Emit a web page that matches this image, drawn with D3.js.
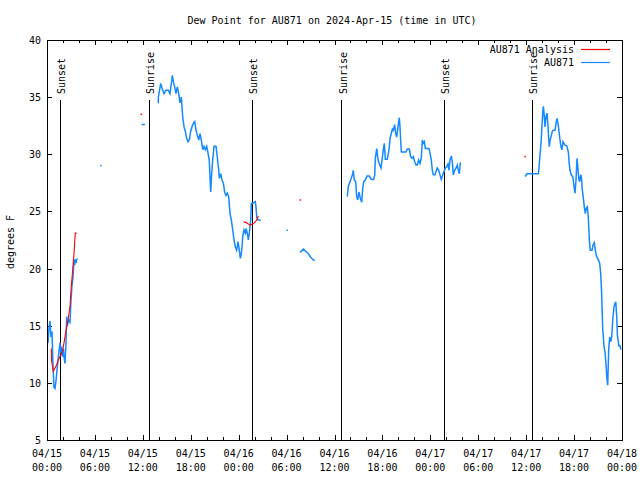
<!DOCTYPE html>
<meta charset="utf-8">
<style>
  body { margin: 0; background: #fff; }
  text { font-family: "DejaVu Sans Mono", monospace; font-size: 10px; fill: #000; }
  .frame { fill: none; stroke: #000; stroke-width: 1; shape-rendering: crispEdges; }
  .tick { stroke: #000; stroke-width: 1; shape-rendering: crispEdges; }
  .sun line { stroke: #000; stroke-width: 1.5; shape-rendering: crispEdges; }
  .series { fill: none; stroke-linejoin: miter; }
</style>
<body>
<script src="https://cdn.jsdelivr.net/npm/d3@7"></script>
<script>

// hours after 2024-04-15 00:00 UTC, null value = gap in the record
var dewHours = [
  0.13,0.25,0.38,0.5,0.63,0.75,0.88,1.0,1.13,1.29,1.47,1.63,1.72,1.82,1.92,2.05,2.13,2.25,2.38,2.46,2.55,2.71,2.88,3.0,3.13,3.25,3.38,3.46,3.55,3.65,3.75,
  5.0,
  6.76,
  9.0,
  11.85,12.27,
  13.0,
  13.94,13.95,14.24,14.40,14.65,14.90,15.19,15.40,15.62,15.69,15.82,15.99,16.15,16.32,16.49,16.65,16.82,16.99,17.16,17.32,17.49,17.66,17.82,17.99,18.16,18.32,18.50,18.66,18.82,19.00,19.16,19.32,19.50,19.66,19.82,20.00,20.16,20.32,20.41,20.50,20.62,20.75,20.91,21.16,21.32,21.50,21.58,21.75,21.91,22.08,22.25,22.41,22.58,22.75,22.92,23.08,23.25,23.42,23.58,23.75,23.92,24.08,24.21,24.33,24.42,24.51,24.67,24.83,24.92,25.08,25.21,25.33,25.51,25.58,25.76,25.92,26.08,26.17,26.26,26.42,26.58,26.76,
  28.0,
  30.09,
  31.0,
  31.68,32.1,32.43,32.72,33.02,33.27,33.52,
  35.0,
  37.60,37.73,37.94,38.10,38.28,38.35,38.48,38.66,38.78,38.91,39.07,39.23,39.41,39.53,39.66,39.86,40.07,40.36,40.61,40.91,41.04,41.11,41.29,41.45,41.66,41.82,41.95,42.11,42.24,42.36,42.61,42.83,42.95,43.11,43.24,43.36,43.54,43.66,43.79,43.95,44.04,44.11,44.20,44.29,44.37,44.62,44.95,45.12,45.37,45.54,45.71,45.87,46.04,46.21,46.37,46.54,46.71,46.87,47.00,47.12,47.25,47.37,47.62,47.83,47.96,48.12,48.25,48.37,48.59,48.71,48.87,49.05,49.21,49.37,49.55,49.71,49.88,50.05,50.21,50.34,50.46,50.63,50.75,50.88,51.05,51.22,51.38,51.50,51.63,51.76,
  55.0,
  59.89,60.07,60.40,60.89,61.52,61.61,61.73,61.86,61.95,62.07,62.15,62.24,62.36,62.49,62.61,62.70,62.82,62.90,62.99,63.11,63.27,63.40,63.61,63.74,63.86,63.99,64.11,64.24,64.36,64.49,64.61,64.74,64.86,65.08,65.28,65.37,65.49,65.65,65.83,65.90,65.99,66.12,66.24,66.37,66.45,66.58,66.70,66.83,66.91,67.03,67.16,67.28,67.41,67.53,67.66,67.78,67.91,68.03,68.25,68.37,68.53,68.66,68.83,69.03,69.21,69.33,69.46,69.58,69.75,69.87,70.00,70.09,70.21,70.34,70.46,70.59,70.71,70.84,71.01,71.13,71.22,71.34,71.42,71.60,71.76,71.85
];
var dewValues = [
  13.5,14.8,15.4,14.0,14.5,11.5,9.6,9.5,10.2,11.4,12.6,13.5,12.6,13.2,12.3,13.0,12.3,11.7,13.5,15.8,15.0,15.5,15.3,17.2,18.5,19.2,20.8,20.3,20.8,20.5,20.9,
  null,
  29.0,
  null,
  32.6,32.6,
  null,
  34.46,35.04,36.2,35.8,35.3,35.6,35.6,35.3,36.5,36.9,36.35,35.9,35.3,35.9,35.3,34.5,35.0,33.3,32.4,32.0,31.4,31.1,31.25,32.0,32.4,32.7,32.86,32.1,31.7,31.25,31.8,31.25,30.4,30.7,30.4,30.7,30.1,29.5,28.0,26.7,28.3,29.5,30.7,30.7,29.8,28.6,27.9,28.3,27.75,27.5,26.7,26.4,26.6,26.3,24.8,24.25,23.4,22.5,21.9,21.6,22.35,21.6,20.9,21.3,21.9,22.8,23.4,23.1,23.5,23.1,22.5,23.1,24.25,25.7,25.7,25.8,25.85,25.4,24.5,24.25,24.25,24.2,
  null,
  23.35,
  null,
  21.4,21.7,21.5,21.3,21.0,20.8,20.7,
  null,
  26.3,27.2,27.6,27.9,28.3,28.6,27.75,27.6,26.3,26.0,26.7,26.15,25.8,27.0,27.6,27.75,28.1,28.1,27.8,27.8,28.2,29.65,30.5,29.5,29.06,28.8,29.5,30.4,30.96,29.56,29.56,30.4,31.4,31.8,32.2,32.1,32.6,31.8,31.5,32.4,32.85,33.2,32.4,31.1,30.2,30.2,30.2,30.46,30.46,29.8,29.65,29.8,29.35,29.06,29.06,29.5,29.2,29.65,31.25,30.96,31.1,30.5,30.5,30.5,30.1,29.5,28.6,28.2,28.2,28.5,28.8,28.6,28.2,27.8,28.2,28.5,28.8,28.9,29.15,28.6,29.5,29.85,29.35,28.2,28.6,28.8,29.06,28.6,28.3,29.3,
  null,
  28.04,28.3,28.3,28.3,28.3,28.8,29.94,30.96,32.1,33.6,34.2,33.6,32.4,33.3,33.6,32.85,31.4,30.66,31.25,31.5,32.0,32.1,32.1,32.7,33.15,32.7,32.0,31.25,30.66,30.4,31.1,30.96,30.8,30.75,30.2,29.35,28.6,28.2,28.04,27.75,27.2,26.6,27.75,29.65,29.06,27.9,27.6,28.2,28.04,26.9,26.15,25.4,24.8,25.3,25.4,24.5,22.5,21.6,21.6,22.06,22.26,21.6,21.04,20.8,20.46,19.6,17.7,14.8,13.2,12.7,11.6,10.54,9.8,13.0,14.0,13.6,14.0,15.5,16.7,16.96,17.1,15.8,14.2,13.25,13.25,12.9
];

var analysisHours = [
  0.54,0.56,0.79,1.09,1.38,1.63,1.92,2.13,2.38,2.63,2.88,3.04,3.22,3.38,3.54,3.72,
  8.0,
  11.81,
  18.0,
  24.58,25.01,25.42,25.71,25.96,26.26,26.46,
  29.0,
  31.72,
  45.0,
  59.86
];
var analysisValues = [
  13.0,12.0,11.0,11.4,11.9,12.3,12.7,13.5,14.6,15.5,16.7,18.4,19.9,21.3,23.1,23.1,
  null,
  33.5,
  null,
  24.1,24.0,23.8,23.9,24.0,24.25,24.6,
  null,
  26.0,
  null,
  29.8
];

var sunHours = [1.69, 12.81, 25.71, 36.90, 49.75, 60.77];
var sunLabels = ["Sunset", "Sunrise", "Sunset", "Sunrise", "Sunset", "Sunrise"];

var seriesNames = ["AU871 Analysis", "AU871"];
var seriesColors = ["#ff0000", "#1589ff"];

var width = 640, height = 480;
var margin = {top: 40, right: 18, bottom: 40, left: 47};
var t0 = Date.UTC(2024, 3, 15);
function toDate(h) { return new Date(t0 + h * 3600e3); }

var svg = d3.select("body").append("svg")
    .attr("width", width).attr("height", height);

var x = d3.scaleUtc()
    .domain([toDate(0), toDate(72)])
    .range([margin.left, width - margin.right]);
var y = d3.scaleLinear()
    .domain([5, 40])
    .range([height - margin.bottom, margin.top]);

var x0 = x.range()[0], x1 = x.range()[1], y0 = y.range()[0], y1 = y.range()[1];

// title and axis label
svg.append("text")
    .attr("x", 332).attr("y", 24)
    .attr("text-anchor", "middle")
    .text("Dew Point for AU871 on 2024-Apr-15 (time in UTC)");

svg.append("text")
    .attr("transform", "translate(14,242) rotate(-90)")
    .attr("text-anchor", "middle")
    .text("degrees F");

// y ticks (left + mirror on right)
var yTicks = y.ticks(7);
var yt = svg.append("g");
yt.selectAll("line.l").data(yTicks).enter().append("line")
    .attr("class", "tick")
    .attr("x1", x0).attr("x2", x0 + 5)
    .attr("y1", function(d) { return Math.round(y(d)) + 0.5; })
    .attr("y2", function(d) { return Math.round(y(d)) + 0.5; });
yt.selectAll("line.r").data(yTicks).enter().append("line")
    .attr("class", "tick")
    .attr("x1", x1).attr("x2", x1 - 5)
    .attr("y1", function(d) { return Math.round(y(d)) + 0.5; })
    .attr("y2", function(d) { return Math.round(y(d)) + 0.5; });
yt.selectAll("text").data(yTicks).enter().append("text")
    .attr("x", x0 - 6)
    .attr("y", function(d) { return y(d) + 4; })
    .attr("text-anchor", "end")
    .text(function(d) { return d; });

// x ticks: majors every 6 hours, minors every 2 hours
var xMajor = x.ticks(d3.utcHour.every(6));
var xMinor = x.ticks(d3.utcHour.every(2)).filter(function(d) { return d.getUTCHours() % 6 !== 0; });
var xt = svg.append("g");
[[xMajor, 5], [xMinor, 3]].forEach(function(set) {
    xt.selectAll(null).data(set[0]).enter().append("line")
        .attr("class", "tick")
        .attr("x1", function(d) { return Math.round(x(d)) + 0.5; })
        .attr("x2", function(d) { return Math.round(x(d)) + 0.5; })
        .attr("y1", y0).attr("y2", y0 - set[1]);
    xt.selectAll(null).data(set[0]).enter().append("line")
        .attr("class", "tick")
        .attr("x1", function(d) { return Math.round(x(d)) + 0.5; })
        .attr("x2", function(d) { return Math.round(x(d)) + 0.5; })
        .attr("y1", y1).attr("y2", y1 + set[1]);
});
var fmtDay = d3.utcFormat("%m/%d"), fmtHour = d3.utcFormat("%H:%M");
var xl = xt.selectAll("text").data(xMajor).enter().append("text")
    .attr("text-anchor", "middle")
    .attr("x", function(d) { return x(d); })
    .attr("y", 457);
xl.append("tspan").text(fmtDay);
xl.append("tspan")
    .attr("x", function(d) { return x(d); })
    .attr("dy", 14)
    .text(fmtHour);

// sunrise / sunset markers
var sun = svg.append("g").attr("class", "sun");
sun.selectAll("line").data(sunHours).enter().append("line")
    .attr("x1", function(d) { return x(toDate(d)); })
    .attr("x2", function(d) { return x(toDate(d)); })
    .attr("y1", 100).attr("y2", y0);
sun.selectAll("text").data(sunHours).enter().append("text")
    .attr("transform", function(d) { return "translate(" + (x(toDate(d)) + 5) + ",94) rotate(-90)"; })
    .text(function(d, i) { return sunLabels[i]; });

// series
function pairs(hours, values) {
    return hours.map(function(h, i) { return {t: toDate(h), v: values[i]}; });
}
var line = d3.line()
    .defined(function(d) { return d.v !== null; })
    .x(function(d) { return x(d.t); })
    .y(function(d) { return y(d.v); });

function drawSeries(data, color, lw) {
    svg.append("path")
        .datum(data)
        .attr("class", "series")
        .attr("stroke", color)
        .attr("stroke-width", lw)
        .attr("d", line);
    // single readings between gaps show up as dots
    var lone = data.filter(function(d, i) {
        return d.v !== null &&
            (i === 0 || data[i - 1].v === null) &&
            (i === data.length - 1 || data[i + 1].v === null);
    });
    svg.selectAll(null).data(lone).enter().append("rect")
        .attr("x", function(d) { return x(d.t) - 0.75; })
        .attr("y", function(d) { return y(d.v) - 0.75; })
        .attr("width", 1.5).attr("height", 1.5)
        .attr("fill", color);
}
drawSeries(pairs(dewHours, dewValues), seriesColors[1], 1.5);
drawSeries(pairs(analysisHours, analysisValues), seriesColors[0], 1.1);

// frame
svg.append("rect")
    .attr("class", "frame")
    .attr("x", x0 + 0.5).attr("y", y1 + 0.5)
    .attr("width", x1 - x0).attr("height", y0 - y1);

// legend
var legend = svg.append("g");
seriesNames.forEach(function(name, i) {
    var ly = 49.5 + i * 13;
    legend.append("text")
        .attr("x", 574).attr("y", ly + 3.5)
        .attr("text-anchor", "end")
        .text(name);
    legend.append("line")
        .attr("x1", 581).attr("x2", 610)
        .attr("y1", ly).attr("y2", ly)
        .attr("stroke", seriesColors[i])
        .attr("stroke-width", 1.2);
});

</script>
</body>
